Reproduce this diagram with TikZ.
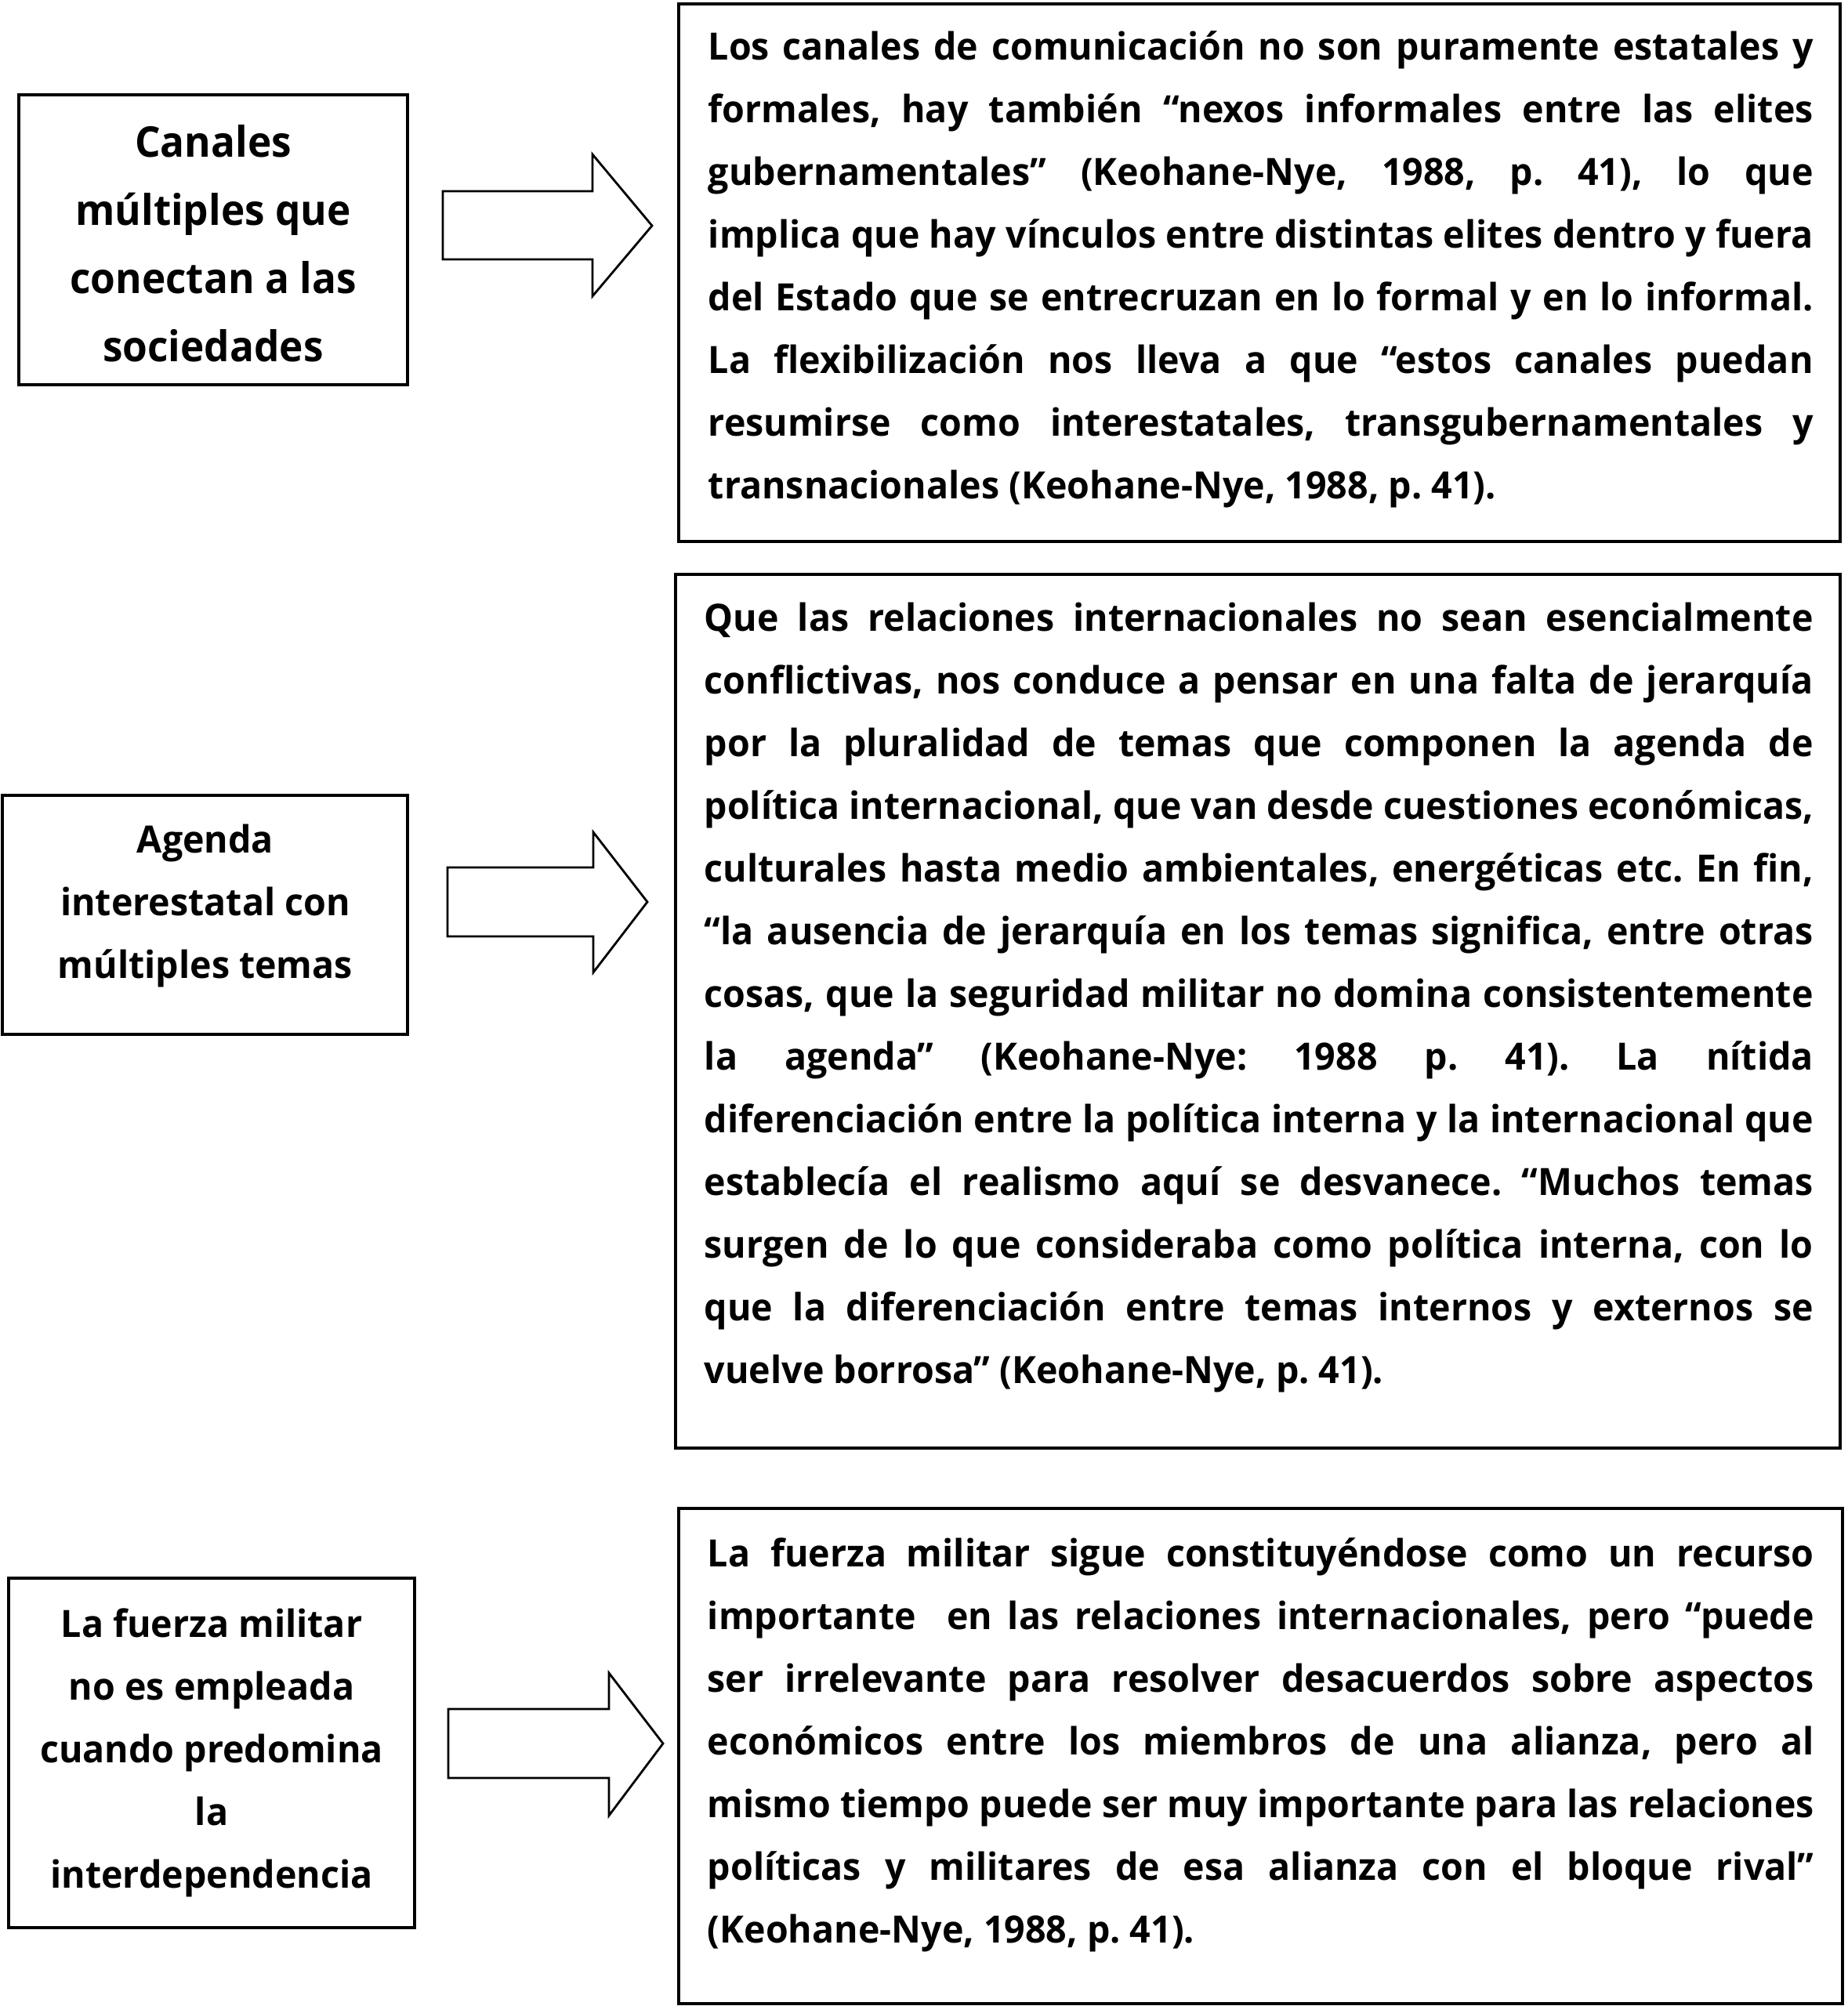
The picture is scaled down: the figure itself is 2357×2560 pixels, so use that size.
\documentclass[tikz,border=0pt]{standalone}
\usepackage{fontspec}
\usepackage{graphicx}
\usetikzlibrary{fit}
\newfontfamily\segb{Open Sans}[FakeStretch=0.97]
\newfontfamily\segt{Open Sans}[FakeStretch=0.95]
\hbadness=10000 \hfuzz=200pt \vbadness=10000
\frenchspacing
% justified line (squeezed if too wide), last line, centred line
\newcommand\jl[1]{\setbox0\hbox{#1}\ifdim\wd0>\hsize
  \hbox to\hsize{\resizebox{\hsize}{\height}{#1}}\else\hbox to\hsize{#1}\fi}
\newcommand\lastl[1]{\hbox{#1}}
\newcommand\cl[1]{\hbox to\hsize{\hss#1\hss}}
\newcommand\tblock[2]{\vtop{\hsize=#1\relax #2}}
\tikzset{
  box/.style={draw=black, line width=0.8pt, inner sep=0pt},
  txt/.style={inner sep=0pt, font={\segb\bfseries\fontsize{12}{20}\selectfont}},
  bigtxt/.style={inner sep=0pt, font={\segt\bfseries\fontsize{13.5}{21.75}\selectfont}},
  blockarrow/.style={draw=black, line width=0.7pt, fill=white, line join=miter}
}
\begin{document}
\begin{tikzpicture}[x=0.25pt, y=-0.25pt]
\useasboundingbox (0,0) rectangle (2357,2560);
\fill[white] (0,0) rectangle (2357,2560);

% ---------- row 1 ----------
\node[box, fit={(24,121)(520,491)}] (L1) {};
\node[bigtxt, anchor=base] (L1t) at (272,200) {\tblock{130pt}{%
\cl{Canales}
\cl{múltiples que}
\cl{conectan a las}
\cl{sociedades}}};

\node[box, fit={(866,5)(2348,691)}] (R1) {};
\node[txt, anchor=base west] (R1t) at (903,76) {\tblock{352.5pt}{%
\jl{Los canales de comunicación no son puramente estatales y}
\jl{formales, hay también “nexos informales entre las elites}
\jl{gubernamentales” (Keohane-Nye, 1988, p. 41), lo que}
\jl{implica que hay vínculos entre distintas elites dentro y fuera}
\jl{del Estado que se entrecruzan en lo formal y en lo informal.}
\jl{La flexibilización nos lleva a que “estos canales puedan}
\jl{resumirse como interestatales, transgubernamentales y}
\lastl{transnacionales (Keohane-Nye, 1988, p. 41).}}};

\coordinate (A1) at (565,244);
\draw[blockarrow] (A1) -- (756,244) -- (756,197) -- (832,288) -- (756,378) -- (756,331) -- (565,331) -- cycle;

% ---------- row 2 ----------
\node[box, fit={(3,1015)(520,1320)}] (L2) {};
\node[txt, anchor=base] (L2t) at (262,1088) {\tblock{130pt}{%
\cl{Agenda}
\cl{interestatal con}
\cl{múltiples temas}}};

\node[box, fit={(862,733)(2348,1848)}] (R2) {};
\node[txt, anchor=base west] (R2t) at (898,805) {\tblock{353.75pt}{%
\jl{Que las relaciones internacionales no sean esencialmente}
\jl{conflictivas, nos conduce a pensar en una falta de jerarquía}
\jl{por la pluralidad de temas que componen la agenda de}
\jl{política internacional, que van desde cuestiones económicas,}
\jl{culturales hasta medio ambientales, energéticas etc. En fin,}
\jl{“la ausencia de jerarquía en los temas significa, entre otras}
\jl{cosas, que la seguridad militar no domina consistentemente}
\jl{la agenda” (Keohane-Nye: 1988 p. 41). La nítida}
\jl{diferenciación entre la política interna y la internacional que}
\jl{establecía el realismo aquí se desvanece. “Muchos temas}
\jl{surgen de lo que consideraba como política interna, con lo}
\jl{que la diferenciación entre temas internos y externos se}
\lastl{vuelve borrosa” (Keohane-Nye, p. 41).}}};

\coordinate (A2) at (571,1107);
\draw[blockarrow] (A2) -- (757,1107) -- (757,1062) -- (826,1151) -- (757,1241) -- (757,1195) -- (571,1195) -- cycle;

% ---------- row 3 ----------
\node[box, fit={(11,2014)(529,2460)}] (L3) {};
\node[txt, anchor=base] (L3t) at (270,2089) {\tblock{130pt}{%
\cl{La fuerza militar}
\cl{no es empleada}
\cl{cuando predomina}
\cl{la}
\cl{interdependencia}}};

\node[box, fit={(866,1925)(2351,2557)}] (R3) {};
\node[txt, anchor=base west] (R3t) at (902,1999) {\tblock{353pt}{%
\jl{La fuerza militar sigue constituyéndose como un recurso}
\jl{importante\ \ en las relaciones internacionales, pero “puede}
\jl{ser irrelevante para resolver desacuerdos sobre aspectos}
\jl{económicos entre los miembros de una alianza, pero al}
\jl{mismo tiempo puede ser muy importante para las relaciones}
\jl{políticas y militares de esa alianza con el bloque rival”}
\lastl{(Keohane-Nye, 1988, p. 41).}}};

\coordinate (A3) at (572,2181);
\draw[blockarrow] (A3) -- (777,2181) -- (777,2135) -- (846,2225) -- (777,2317) -- (777,2269) -- (572,2269) -- cycle;
\end{tikzpicture}
\end{document}
